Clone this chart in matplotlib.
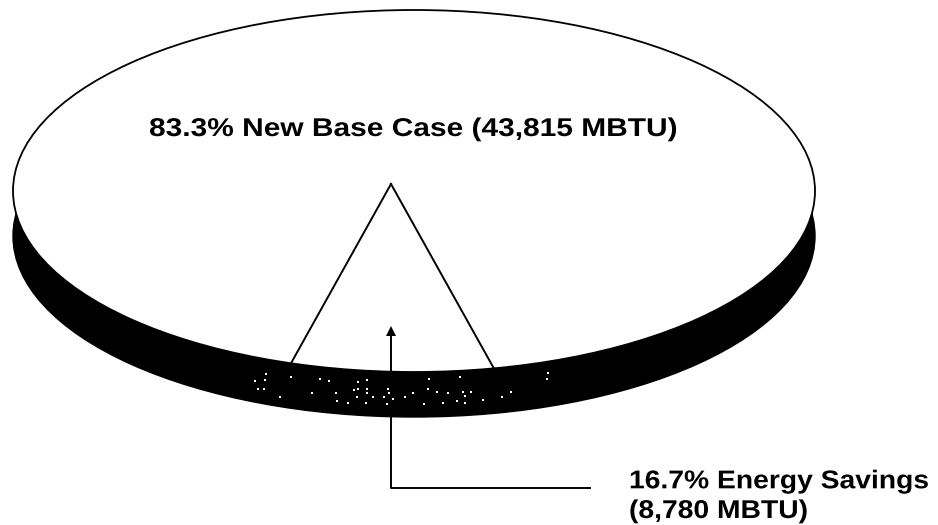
import numpy as np
import matplotlib
matplotlib.use('Agg')
import matplotlib.pyplot as plt
import matplotlib.patheffects as pe
from matplotlib.patches import Ellipse
from matplotlib.transforms import Affine2D

# shares of the pie, in percent
shares = [83.3, 16.7]
base_label = "83.3% New Base Case (43,815 MBTU)"
savings_label = "16.7% Energy Savings\n(8,780 MBTU)"

# white flecks in the dark rim (scan noise)
fleck_x = [266, 291, 320, 329, 265, 255, 264, 258, 312, 280, 358, 367, 367, 358, 354, 367, 388, 389, 373,
           336, 337, 348, 357, 366, 387, 384, 393, 405, 413, 429, 460, 428, 437, 448, 463, 471, 465, 457,
           465, 443, 424, 483, 502, 511, 548, 547]
fleck_y = [374, 377, 379, 381, 380, 381, 389, 389, 393, 397, 382, 380, 389, 389, 390, 393, 389, 393, 397,
           393, 401, 403, 397, 403, 404, 397, 399, 397, 393, 379, 377, 389, 392, 393, 392, 392, 396, 401,
           403, 403, 404, 400, 397, 392, 373, 379]

# pie geometry in image pixels
cx, cy = 414, 191
a, b = 401, 181
depth = 45
apex_x, apex_y = 391, 184


# the typewriter-wide lettering of the original: stretch glyphs sideways
class Stretch(pe.AbstractPathEffect):
    def __init__(self, sx):
        super().__init__()
        self.sx = sx

    def draw_path(self, renderer, gc, tpath, affine, rgbFace=None):
        renderer.draw_path(gc, tpath, Affine2D().scale(self.sx, 1) + affine, rgbFace)


fig = plt.figure(figsize=(9.38, 5.25), dpi=100)
ax = fig.add_axes([0, 0, 1, 1])
ax.set_xlim(0, 938)
ax.set_ylim(525, 0)
ax.axis('off')

# rim and top of the pie
ax.add_patch(Ellipse((cx, cy + depth), 2 * a, 2 * b, fc='black', ec='black', lw=1, zorder=1))
ax.scatter(fleck_x, fleck_y, s=3.5, c='white', marker='s', linewidths=0, zorder=2)
ax.add_patch(Ellipse((cx, cy), 2 * a, 2 * b, fc='white', ec='black', lw=1.3, zorder=3))


# where a ray from the apex meets the rim of the top ellipse
def rim_point(angle):
    dx, dy = np.sin(angle), np.cos(angle)
    ox, oy = (apex_x - cx) / a, (apex_y - cy) / b
    ux, uy = dx / a, dy / b
    A = ux ** 2 + uy ** 2
    B = 2 * (ox * ux + oy * uy)
    C = ox ** 2 + oy ** 2 - 1
    t = (-B + np.sqrt(B ** 2 - 4 * A * C)) / (2 * A)
    return apex_x + t * dx, apex_y + t * dy


# savings slice, centred on straight down (drawn a touch narrower than true angle)
half = np.radians(shares[1] / 100 * 360 / 2) * 0.97
for ang in [-half, half]:
    ex, ey = rim_point(ang)
    ax.plot([apex_x, ex], [apex_y, ey], color='black', lw=1.4, zorder=4)

# leader with arrow head
ax.plot([590, 391, 391], [488, 488, 335], color='black', lw=1.4, zorder=5)
ax.annotate('', xy=(391, 326), xytext=(391, 340), zorder=6,
            arrowprops=dict(arrowstyle='-|>,head_width=0.18,head_length=0.36', color='black', lw=0,
                            mutation_scale=20, shrinkA=0, shrinkB=0))

t1 = ax.text(149, 136, base_label, family='Liberation Sans', weight='bold', fontsize=18.5,
             color='black', ha='left', va='baseline', zorder=6)
t2 = ax.text(629, 518, savings_label, family='Liberation Sans', weight='bold', fontsize=18.5,
             color='black', ha='left', va='baseline', linespacing=1.3, zorder=6)

# fit the widths to the reference
r = fig.canvas.get_renderer()
t1.set_path_effects([Stretch(530 / t1.get_window_extent(r).width)])
t2.set_path_effects([Stretch(301 / t2.get_window_extent(r).width)])
print(t1.get_window_extent(r).width, t2.get_window_extent(r).width)

fig.savefig('out.png', dpi=100)
